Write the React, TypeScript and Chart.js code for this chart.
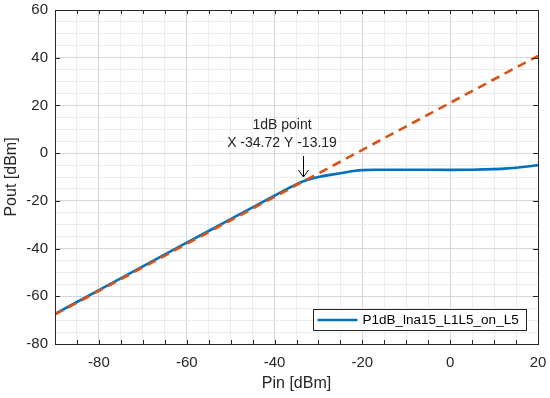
import { useEffect, useRef } from 'react';
import { Chart, registerables } from 'chart.js';

Chart.register(...registerables);

// ---- data ----
const PIN = [-90, -80, -70, -60, -50, -45, -40, -38, -36, -34, -32, -30, -27, -24, -22, -20, -17, -10, 0, 5, 10, 13, 16, 18, 20];
const POUT = [-67.4, -57.4, -47.45, -37.55, -27.7, -22.75, -17.85, -15.85, -13.95, -12.2, -10.95, -10.0, -9.0, -8.1, -7.5, -7.1, -6.95, -6.95, -7.0, -6.95, -6.7, -6.4, -5.9, -5.5, -5.0];
const LINEAR_PIN = [-90, 20];
const LINEAR_POUT = [-67.6, 40.8];
const SERIES_LABEL = 'P1dB_lna15_L1L5_on_L5';

const X_MIN = -90, X_MAX = 20, X_MINOR = 5;
const Y_MIN = -80, Y_MAX = 60, Y_MINOR = 5;
const X_TICKS = [-80, -60, -40, -20, 0, 20];
const Y_TICKS = [-80, -60, -40, -20, 0, 20, 40, 60];

const P1DB_X = -34.72;
const P1DB_Y = -13.19;
const ARROW_X = -33.5;
const ARROW_TIP_Y = -10;
const ARROW_TAIL_Y = -1.2;
const TEXT_X = -38.3;
const TEXT_Y1 = 11.8;
const TEXT_Y2 = 4.3;

const BLUE = '#0072BD';
const ORANGE = '#D95319';
const AXIS = '#262626';
const FONT = '"Liberation Sans", Arial, Helvetica, sans-serif';

const zeroPad = (s: any) => {
  s.paddingTop = 0; s.paddingBottom = 0; s.paddingLeft = 0; s.paddingRight = 0;
};

const framePlugin = {
  id: 'frame',
  afterDatasetsDraw(chart: any) {
    const { ctx, chartArea: a, scales } = chart;
    const xs = scales.x, ys = scales.y;
    ctx.save();
    ctx.strokeStyle = AXIS;
    ctx.lineWidth = 1;
    ctx.beginPath();
    for (let v = X_MIN; v <= X_MAX; v += X_MINOR) {
      const px = Math.round(xs.getPixelForValue(v)) + 0.5;
      ctx.moveTo(px, a.bottom); ctx.lineTo(px, a.bottom - 4);
      ctx.moveTo(px, a.top); ctx.lineTo(px, a.top + 4);
    }
    for (const v of Y_TICKS) {
      const py = Math.round(ys.getPixelForValue(v)) + 0.5;
      ctx.moveTo(a.left, py); ctx.lineTo(a.left + 5, py);
      ctx.moveTo(a.right, py); ctx.lineTo(a.right - 5, py);
    }
    ctx.stroke();
    ctx.strokeRect(Math.round(a.left) + 0.5, Math.round(a.top) + 0.5, Math.round(a.right - a.left), Math.round(a.bottom - a.top));

    // annotation
    ctx.fillStyle = AXIS;
    ctx.font = `14px ${FONT}`;
    ctx.textAlign = 'center';
    ctx.textBaseline = 'middle';
    const tx = xs.getPixelForValue(TEXT_X);
    ctx.fillText('1dB point', tx, ys.getPixelForValue(TEXT_Y1));
    ctx.fillText(`X ${P1DB_X} Y ${P1DB_Y}`, tx, ys.getPixelForValue(TEXT_Y2));
    const ax = Math.round(xs.getPixelForValue(ARROW_X)) + 0.5;
    const tipY = ys.getPixelForValue(ARROW_TIP_Y);
    const tailY = ys.getPixelForValue(ARROW_TAIL_Y);
    ctx.strokeStyle = '#000';
    ctx.lineWidth = 1;
    ctx.beginPath();
    ctx.moveTo(ax, tailY); ctx.lineTo(ax, tipY);
    ctx.moveTo(ax - 5, tipY - 7); ctx.lineTo(ax, tipY); ctx.lineTo(ax + 5, tipY - 7);
    ctx.stroke();

    // legend
    const lx = 313.5, ly = 309.5, lw = 213, lh = 21;
    ctx.fillStyle = '#fff';
    ctx.fillRect(lx, ly, lw, lh);
    ctx.strokeStyle = AXIS;
    ctx.strokeRect(lx, ly, lw, lh);
    const ds = chart.data.datasets[0];
    ctx.strokeStyle = ds.borderColor;
    ctx.lineWidth = 2.5;
    ctx.beginPath();
    ctx.moveTo(lx + 4, ly + lh / 2); ctx.lineTo(lx + 44, ly + lh / 2);
    ctx.stroke();
    ctx.fillStyle = '#000';
    ctx.font = `13.5px ${FONT}`;
    ctx.textAlign = 'left';
    ctx.fillText(ds.label, lx + 49, ly + lh / 2 + 0.5);
    ctx.restore();
  },
};

export default function App() {
  const ref = useRef<HTMLCanvasElement>(null);
  useEffect(() => {
    document.body.style.margin = '0';
    const canvas = ref.current!;
    const chart = new Chart(canvas, {
      type: 'line',
      data: {
        datasets: [
          {
            label: SERIES_LABEL,
            data: PIN.map((x, i) => ({ x, y: POUT[i] })),
            borderColor: BLUE,
            borderWidth: 2.6,
            pointRadius: 0,
            cubicInterpolationMode: 'monotone',
            order: 2,
          },
          {
            label: 'linear',
            data: LINEAR_PIN.map((x, i) => ({ x, y: LINEAR_POUT[i] })),
            borderColor: ORANGE,
            borderWidth: 2.6,
            borderDash: [9, 6],
            pointRadius: 0,
            order: 1,
          },
        ],
      },
      options: {
        animation: false,
        responsive: false,
        devicePixelRatio: 1,
        layout: { padding: { top: 10, right: 12, left: 0, bottom: 0 } },
        plugins: { legend: { display: false }, tooltip: { enabled: false } },
        scales: {
          x: {
            type: 'linear',
            min: X_MIN,
            max: X_MAX,
            afterFit: (s: any) => { s.height = 54; zeroPad(s); },
            border: { display: false },
            grid: {
              drawTicks: false,
              color: (c: any) => (X_TICKS.includes(c.tick?.value) ? '#d6d6d6' : '#ececec'),
            },
            ticks: {
              stepSize: X_MINOR,
              autoSkip: false,
              maxRotation: 0,
              padding: 10,
              color: AXIS,
              font: { family: FONT, size: 15 },
              callback: (v: any) => (X_TICKS.includes(Number(v)) ? String(v) : ''),
            },
            title: {
              display: true,
              text: 'Pin [dBm]',
              color: AXIS,
              font: { family: FONT, size: 16 },
              padding: { top: 0, bottom: 5 },
            },
          },
          y: {
            type: 'linear',
            min: Y_MIN,
            max: Y_MAX,
            afterFit: (s: any) => { s.width = 55; zeroPad(s); },
            border: { display: false },
            grid: {
              drawTicks: false,
              color: (c: any) => (Y_TICKS.includes(c.tick?.value) ? '#d6d6d6' : '#ececec'),
            },
            ticks: {
              stepSize: Y_MINOR,
              autoSkip: false,
              padding: 7,
              color: AXIS,
              font: { family: FONT, size: 15 },
              callback: (v: any) => (Y_TICKS.includes(Number(v)) ? String(v) : ''),
            },
            title: {
              display: true,
              text: 'Pout [dBm]',
              color: AXIS,
              font: { family: FONT, size: 16 },
              padding: { top: 2, bottom: 0 },
            },
          },
        },
      },
      plugins: [framePlugin],
    } as any);
    return () => chart.destroy();
  }, []);
  return (
    <div style={{ width: 550, height: 398, background: '#fff' }}>
      <canvas ref={ref} width={550} height={398} />
    </div>
  );
}
